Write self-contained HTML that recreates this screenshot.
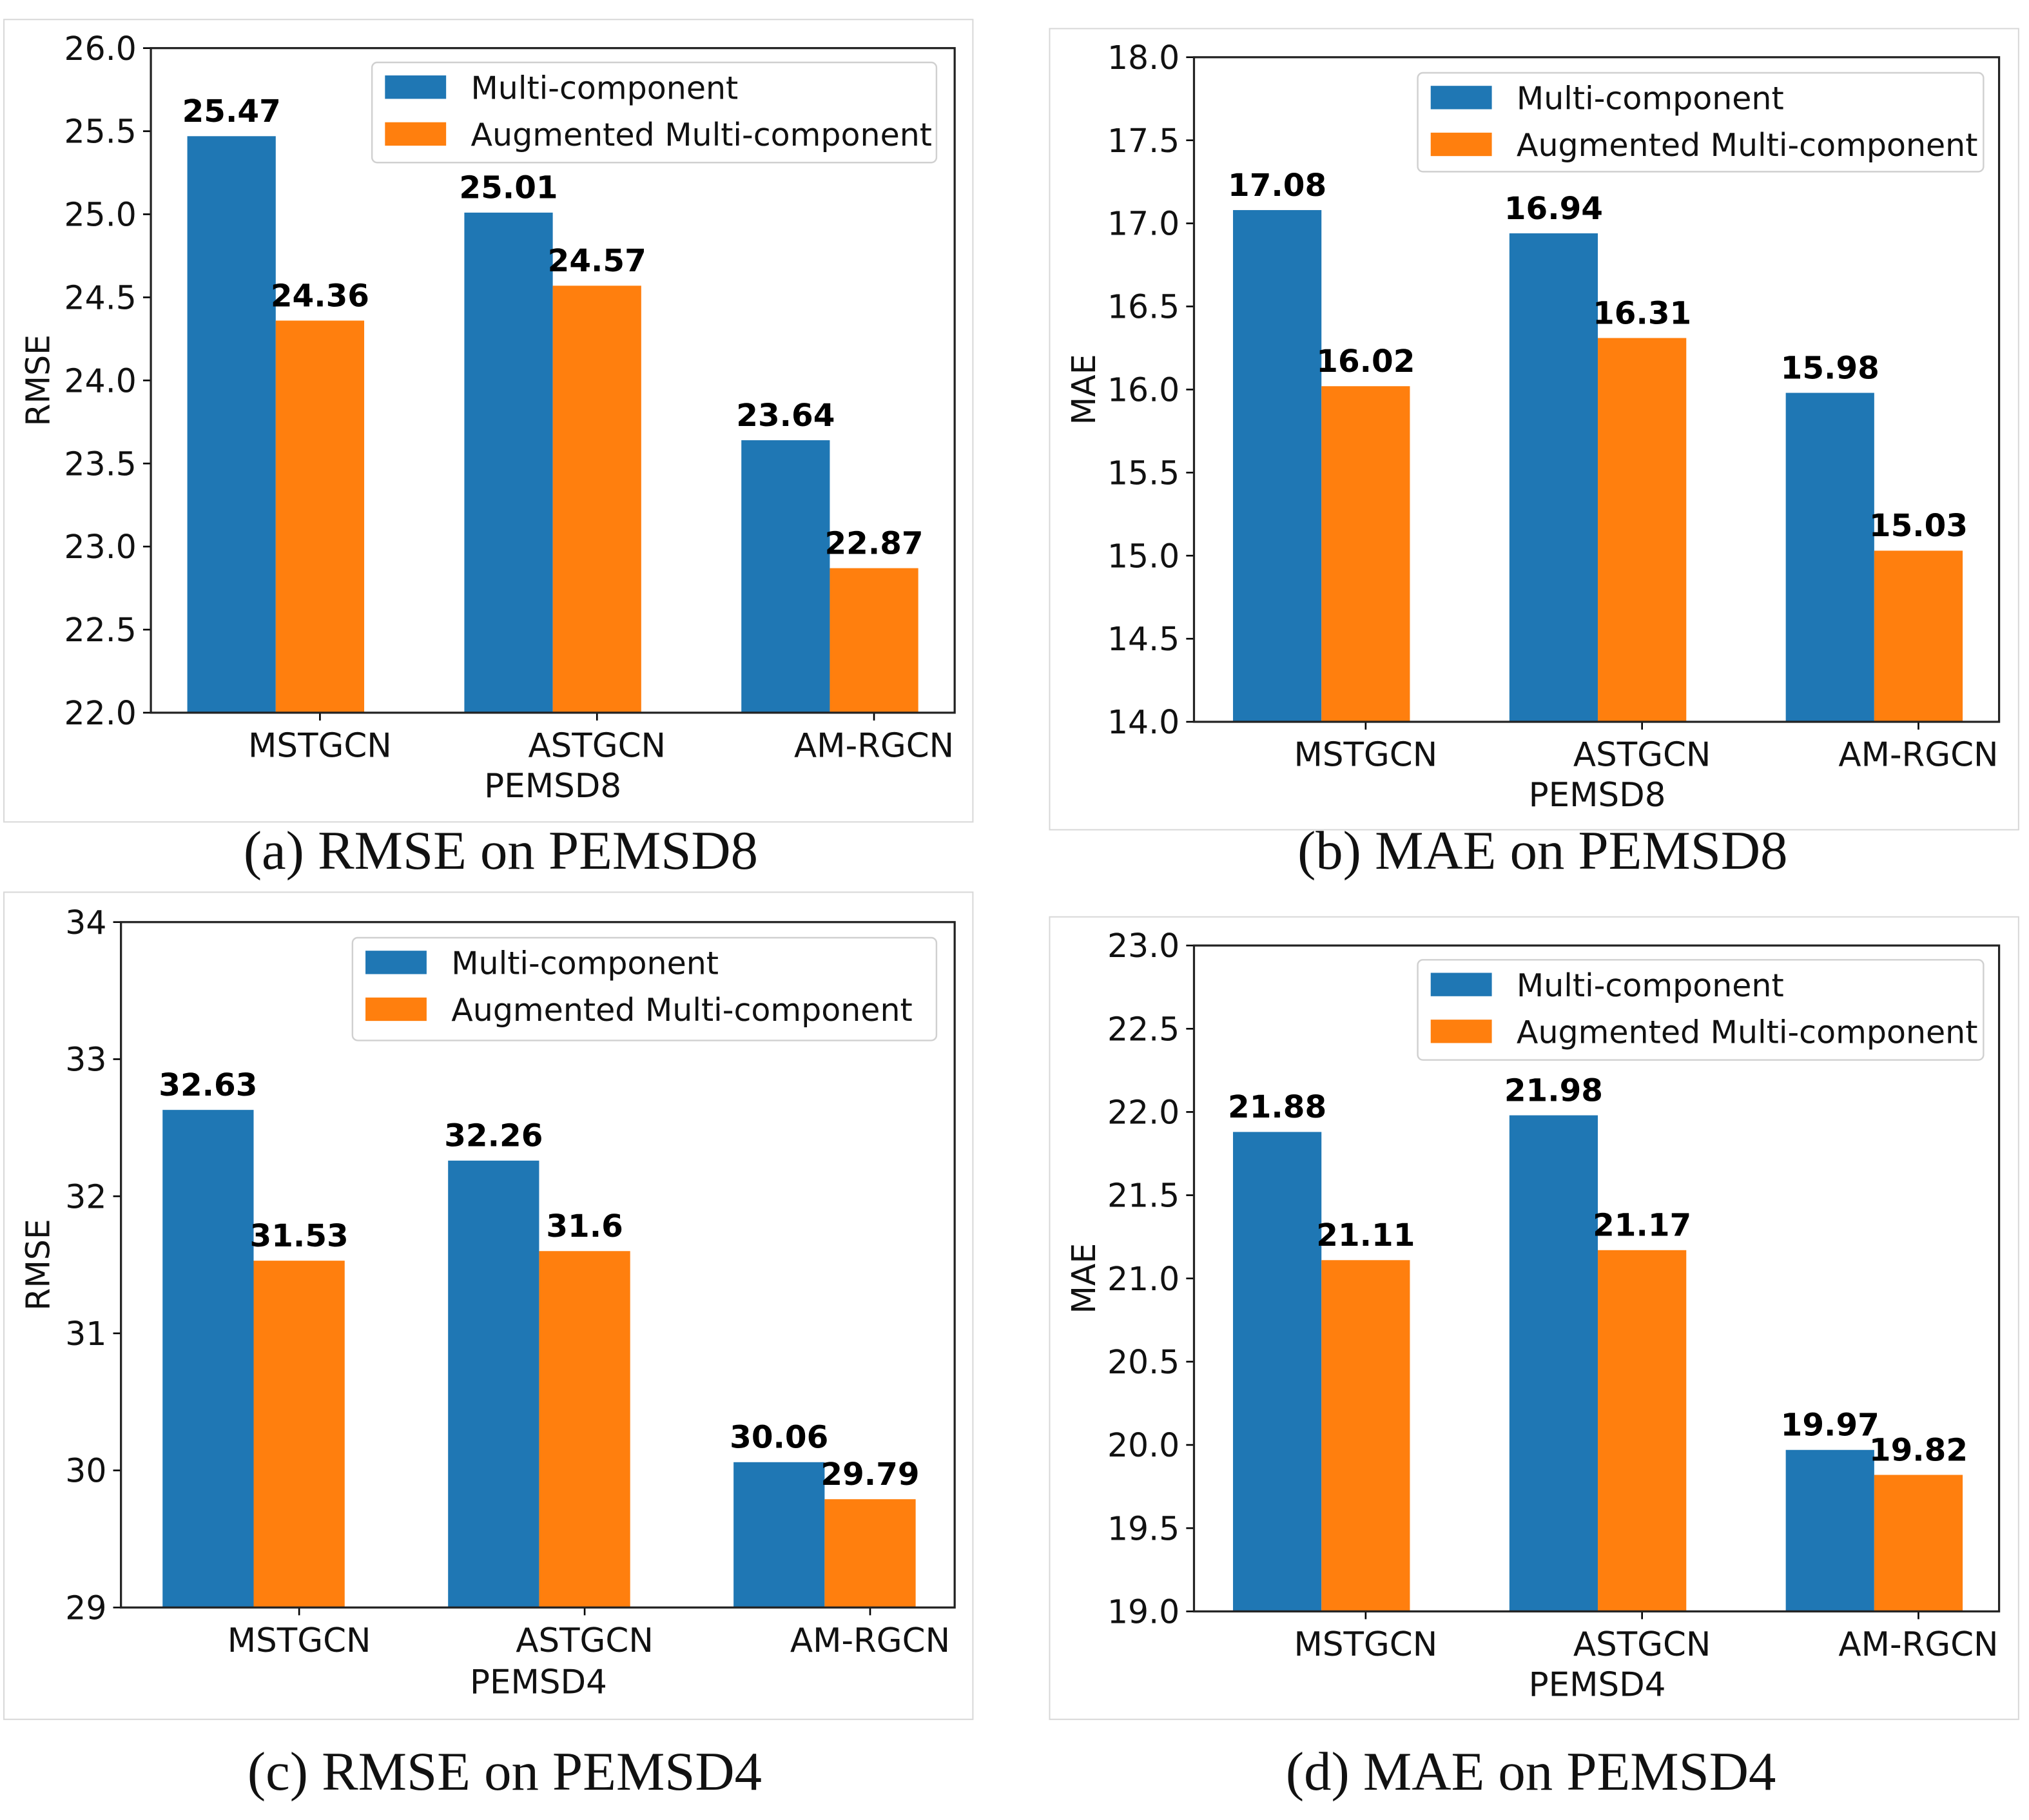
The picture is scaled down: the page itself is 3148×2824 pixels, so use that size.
<!DOCTYPE html>
<html><head><meta charset="utf-8"><style>
html,body{margin:0;padding:0;background:#fff;}
svg{display:block;}
</style></head><body>
<svg id="fig" width="3148" height="2824" viewBox="0 0 1560 1399.4" preserveAspectRatio="none" xmlns="http://www.w3.org/2000/svg"></svg>
<script>
const categories = ["MSTGCN","ASTGCN","AM-RGCN"];
const seriesNames = ["Multi-component","Augmented Multi-component"];
const rmse8Multi = [25.47,25.01,23.64];
const rmse8Aug = [24.36,24.57,22.87];
const mae8Multi = [17.08,16.94,15.98];
const mae8Aug = [16.02,16.31,15.03];
const rmse4Multi = [32.63,32.26,30.06];
const rmse4Aug = [31.53,31.6,29.79];
const mae4Multi = [21.88,21.98,19.97];
const mae4Aug = [21.11,21.17,19.82];
const rmse8Labels = ["25.47","25.01","23.64"];
const rmse8AugLabels = ["24.36","24.57","22.87"];
const mae8Labels = ["17.08","16.94","15.98"];
const mae8AugLabels = ["16.02","16.31","15.03"];
const rmse4Labels = ["32.63","32.26","30.06"];
const rmse4AugLabels = ["31.53","31.6","29.79"];
const mae4Labels = ["21.88","21.98","19.97"];
const mae4AugLabels = ["21.11","21.17","19.82"];
const ticksHalf8 = ["22.0","22.5","23.0","23.5","24.0","24.5","25.0","25.5","26.0"];
const ticksMae8 = ["14.0","14.5","15.0","15.5","16.0","16.5","17.0","17.5","18.0"];
const ticksRmse4 = ["29","30","31","32","33","34"];
const ticksMae4 = ["19.0","19.5","20.0","20.5","21.0","21.5","22.0","22.5","23.0"];

const NS="http://www.w3.org/2000/svg";
const svg=document.getElementById('fig');
function mk(tag,attrs,parent,text){const e=document.createElementNS(NS,tag);for(const k in attrs)e.setAttribute(k,attrs[k]);if(text!==undefined)e.textContent=text;(parent||svg).appendChild(e);return e;}
const SANS='"DejaVu Sans","Liberation Sans",sans-serif';

function panel(cfg){
  const g=mk('g',{});
  
  
  const f=mk('rect',{x:cfg.frame[0],y:cfg.frame[1],width:cfg.frame[2]-cfg.frame[0],height:cfg.frame[3]-cfg.frame[1],fill:'none',stroke:'#d8d8d8','stroke-width':1},g);
  
  
  const [L,T,R,B]=cfg.axes;
  const ymin=cfg.ymin, ymax=cfg.ymax;
  const yS=v=>B-(v-ymin)/(ymax-ymin)*(B-T);
  const xS=i=>cfg.x0+i*cfg.dx;
  const w=cfg.bw;
  for(let i=0;i<categories.length;i++){
    const v1=cfg.s1[i], v2=cfg.s2[i];
    const b1=mk('rect',{x:xS(i)-w*1.5,y:yS(v1),width:w,height:B-yS(v1),fill:'#1f77b4'},g);
    
    
    const b2=mk('rect',{x:xS(i)-w*0.5,y:yS(v2),width:w,height:B-yS(v2),fill:'#ff7f0e'},g);
    
    
    const l1=mk('text',{x:xS(i)-w,y:yS(v1)-11,'text-anchor':'middle','font-family':SANS,'font-weight':'bold','font-size':24,fill:'#000'},g,cfg.l1[i]);
    
    
    const l2=mk('text',{x:xS(i),y:yS(v2)-11,'text-anchor':'middle','font-family':SANS,'font-weight':'bold','font-size':24,fill:'#000'},g,cfg.l2[i]);
    
    
    mk('line',{x1:xS(i),x2:xS(i),y1:B,y2:B+6,stroke:'#000','stroke-width':1.3},g);
    const xl=mk('text',{x:xS(i),y:B+34,'text-anchor':'middle','font-family':SANS,'font-size':25.5,fill:'#111'},g,categories[i]);
    
    
  }
  const n=cfg.ticks.length;
  for(let k=0;k<n;k++){
    const v=ymin+k*(ymax-ymin)/(n-1);
    const y=yS(v);
    mk('line',{x1:L-6,x2:L,y1:y,y2:y,stroke:'#000','stroke-width':1.3},g);
    const t=mk('text',{x:L-11,y:y+9,'text-anchor':'end','font-family':SANS,'font-size':25,fill:'#111'},g,cfg.ticks[k]);
    
    
  }
  const ax=mk('rect',{x:L,y:T,width:R-L,height:B-T,fill:'none',stroke:'#222','stroke-width':1.6},g);
  
  
  const yl=mk('text',{x:0,y:0,transform:`translate(${cfg.ylabX},${(T+B)/2}) rotate(-90)`,'text-anchor':'middle','font-family':SANS,'font-size':25,fill:'#111'},g,cfg.ylabel);
  
  
  const xt=mk('text',{x:cfg.xtitle[0],y:cfg.xtitle[1],'text-anchor':'middle','font-family':SANS,'font-size':25.5,fill:'#111'},g,cfg.xlabel);
  
  
  const [lx,ly,lx2,ly2]=cfg.legend;
  const lg=mk('g',{},g);
  
  
  mk('rect',{x:lx,y:ly,width:lx2-lx,height:ly2-ly,rx:4,fill:'#fff',stroke:'#d0d0d0','stroke-width':1.2},lg);
  const cols=['#1f77b4','#ff7f0e'];
  for(let s=0;s<2;s++){
    const yy=ly+19+s*36;
    mk('rect',{x:lx+10,y:yy-9,width:47,height:18,fill:cols[s]},lg);
    const lt=mk('text',{x:lx+76,y:yy+9,'font-family':SANS,'font-size':24.3,fill:'#111'},lg,seriesNames[s]);
    
    
  }
  const cap=mk('text',{x:cfg.caption[0],y:cfg.caption[1],'text-anchor':'middle','font-family':'"Liberation Serif",serif','font-size':42,fill:'#111'},svg,cfg.captionText);
  
  
}

panel({id:'panel-a-rmse-pemsd8',frame:[3,15,748,632],axes:[116,37,734,548],ymin:22,ymax:26,ticks:ticksHalf8,
  x0:246,dx:213,bw:68,s1:rmse8Multi,s2:rmse8Aug,l1:rmse8Labels,l2:rmse8AugLabels,ylabel:'RMSE',ylabX:38,
  xlabel:'PEMSD8',xtitle:[425,613],legend:[286,48,720,125],caption:[385,668],captionText:'(a) RMSE on PEMSD8'});
panel({id:'panel-b-mae-pemsd8',frame:[807,22,1552,638],axes:[918,44,1537,555],ymin:14,ymax:18,ticks:ticksMae8,
  x0:1050,dx:212.5,bw:68,s1:mae8Multi,s2:mae8Aug,l1:mae8Labels,l2:mae8AugLabels,ylabel:'MAE',ylabX:842,
  xlabel:'PEMSD8',xtitle:[1228,620],legend:[1090,56,1525,132],caption:[1186,668],captionText:'(b) MAE on PEMSD8'});
panel({id:'panel-c-rmse-pemsd4',frame:[3,686,748,1322],axes:[93,709,734,1236],ymin:29,ymax:34,ticks:ticksRmse4,
  x0:230,dx:219.5,bw:70,s1:rmse4Multi,s2:rmse4Aug,l1:rmse4Labels,l2:rmse4AugLabels,ylabel:'RMSE',ylabX:38,
  xlabel:'PEMSD4',xtitle:[414,1302],legend:[271,721,720,800],caption:[388,1376],captionText:'(c) RMSE on PEMSD4'});
panel({id:'panel-d-mae-pemsd4',frame:[807,705,1552,1322],axes:[918,727,1537,1239],ymin:19,ymax:23,ticks:ticksMae4,
  x0:1050,dx:212.5,bw:68,s1:mae4Multi,s2:mae4Aug,l1:mae4Labels,l2:mae4AugLabels,ylabel:'MAE',ylabX:842,
  xlabel:'PEMSD4',xtitle:[1228,1304],legend:[1090,738,1525,815],caption:[1177,1376],captionText:'(d) MAE on PEMSD4'});
</script>
</body></html>
